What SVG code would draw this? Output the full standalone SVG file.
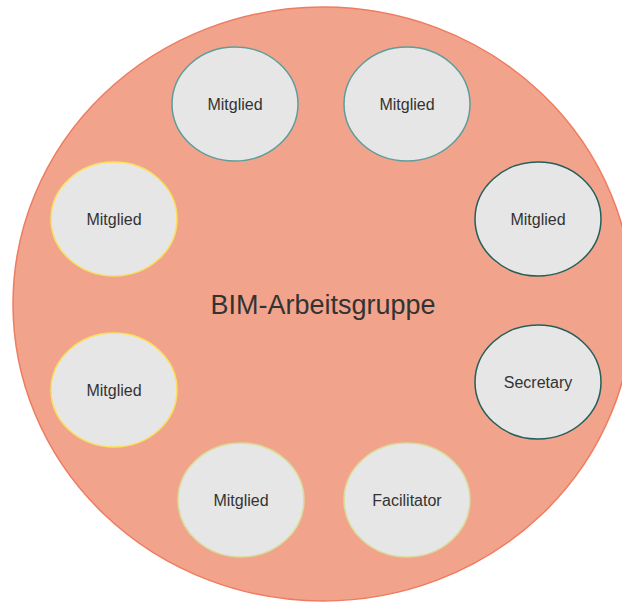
<svg xmlns="http://www.w3.org/2000/svg" width="622" height="602" viewBox="0 0 622 602">
<style>
.n{fill:#e6e6e6;stroke-width:1.5}
.t{font-family:"Liberation Sans",Arial,sans-serif;font-size:16px;fill:#333;text-anchor:middle;dominant-baseline:central}
.a{stroke:#5d9e9b}.b{stroke:#245f5a}.c{stroke:#f7e15e}.d{stroke:#d9dc97}
</style>
<rect width="622" height="602" fill="#fff"/>
<g id="group">
<ellipse cx="323" cy="304" rx="310" ry="297" fill="#f2a38c" stroke="#ef7c60" stroke-width="1.5"/>
<text x="323" y="305" class="t" style="font-size:27px">BIM-Arbeitsgruppe</text>
</g>
<g id="n1"><ellipse class="n a" cx="235" cy="104" rx="63" ry="57"/><text class="t" x="235" y="104">Mitglied</text></g>
<g id="n2"><ellipse class="n a" cx="407" cy="104" rx="63" ry="57"/><text class="t" x="407" y="104">Mitglied</text></g>
<g id="n3"><ellipse class="n b" cx="538" cy="219" rx="63" ry="57"/><text class="t" x="538" y="219">Mitglied</text></g>
<g id="n4"><ellipse class="n c" cx="114" cy="219" rx="63" ry="57"/><text class="t" x="114" y="219">Mitglied</text></g>
<g id="n5"><ellipse class="n c" cx="114" cy="390" rx="63" ry="57"/><text class="t" x="114" y="390">Mitglied</text></g>
<g id="n6"><ellipse class="n b" cx="538" cy="382" rx="63" ry="57"/><text class="t" x="538" y="382">Secretary</text></g>
<g id="n7"><ellipse class="n d" cx="241" cy="500" rx="63" ry="57"/><text class="t" x="241" y="500">Mitglied</text></g>
<g id="n8"><ellipse class="n d" cx="407" cy="500" rx="63" ry="57"/><text class="t" x="407" y="500">Facilitator</text></g>
<g id="connectors"/>
</svg>
